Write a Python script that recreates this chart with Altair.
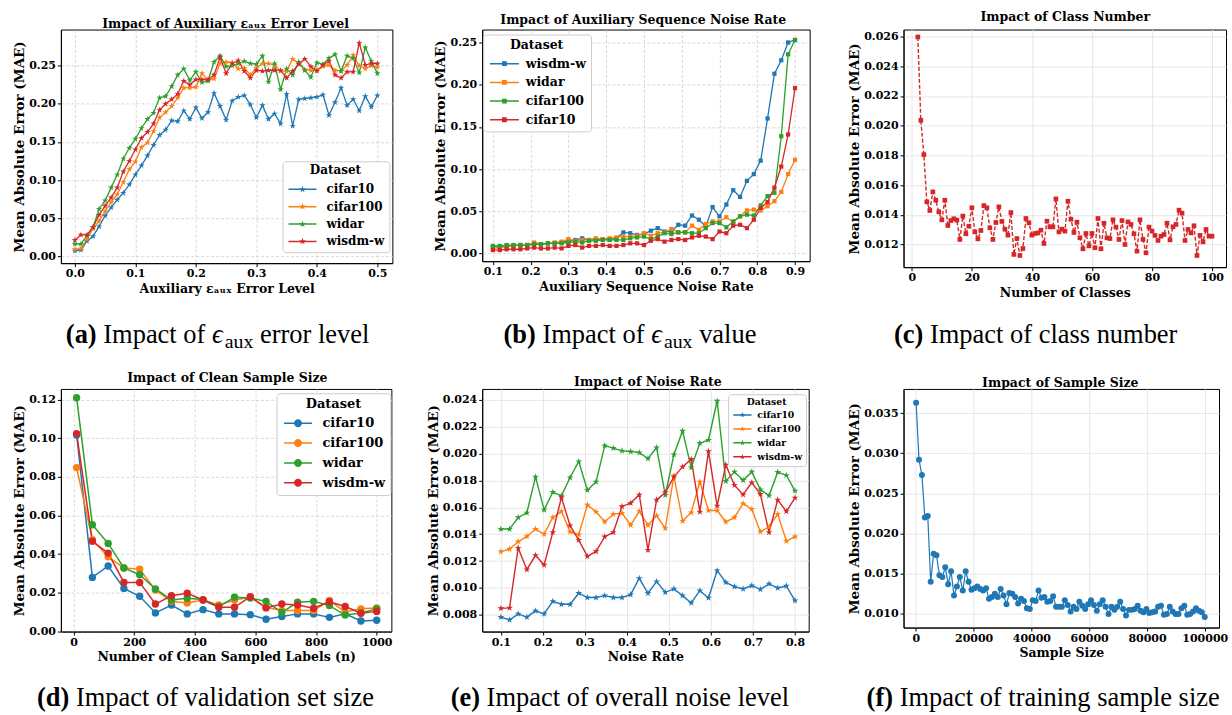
import altair as alt
import numpy as np
import pandas as pd

FONT = "DejaVu Serif"
CAP_FONT = "Liberation Serif"
BLUE, ORANGE, GREEN, RED = "#1f77b4", "#ff7f0e", "#2ca02c", "#d62728"

# ---------------- (a) auxiliary error level ----------------
A_NAMES = ["cifar10", "cifar100", "widar", "wisdm-w"]
A_X = [round(0.01 * i, 2) for i in range(51)]
A_CIFAR10 = [0.007, 0.008, 0.020, 0.026, 0.039, 0.053, 0.064, 0.074, 0.083, 0.094,
             0.107, 0.119, 0.132, 0.146, 0.159, 0.166, 0.178, 0.177, 0.191, 0.180,
             0.195, 0.181, 0.189, 0.214, 0.197, 0.179, 0.204, 0.209, 0.211, 0.199,
             0.182, 0.198, 0.180, 0.187, 0.174, 0.213, 0.171, 0.206, 0.207, 0.208,
             0.209, 0.212, 0.185, 0.202, 0.221, 0.198, 0.206, 0.191, 0.210, 0.196, 0.211]
A_CIFAR100 = [0.009, 0.010, 0.022, 0.036, 0.046, 0.059, 0.071, 0.081, 0.097, 0.114,
              0.124, 0.143, 0.149, 0.164, 0.182, 0.189, 0.197, 0.208, 0.221, 0.221,
              0.222, 0.240, 0.231, 0.233, 0.253, 0.255, 0.254, 0.246, 0.247, 0.238,
              0.247, 0.253, 0.253, 0.251, 0.243, 0.243, 0.259, 0.253, 0.245, 0.244,
              0.245, 0.249, 0.251, 0.244, 0.243, 0.251, 0.264, 0.250, 0.246, 0.250, 0.248]
A_WIDAR = [0.016, 0.016, 0.027, 0.038, 0.062, 0.073, 0.090, 0.107, 0.128, 0.142,
           0.154, 0.168, 0.180, 0.188, 0.208, 0.210, 0.223, 0.238, 0.246, 0.231,
           0.242, 0.228, 0.230, 0.255, 0.263, 0.249, 0.250, 0.253, 0.256, 0.253,
           0.252, 0.263, 0.229, 0.253, 0.219, 0.246, 0.238, 0.255, 0.244, 0.235,
           0.254, 0.252, 0.260, 0.265, 0.243, 0.263, 0.260, 0.241, 0.274, 0.256, 0.240]
A_WISDM = [0.021, 0.028, 0.028, 0.038, 0.054, 0.066, 0.077, 0.090, 0.111, 0.125,
           0.140, 0.155, 0.163, 0.174, 0.192, 0.200, 0.206, 0.213, 0.230, 0.225,
           0.232, 0.232, 0.232, 0.238, 0.261, 0.240, 0.253, 0.257, 0.243, 0.234,
           0.244, 0.243, 0.244, 0.244, 0.244, 0.234, 0.243, 0.252, 0.259, 0.249,
           0.243, 0.251, 0.256, 0.238, 0.234, 0.242, 0.242, 0.280, 0.251, 0.253, 0.253]

# ---------------- (b) auxiliary sequence noise rate ----------------
B_NAMES = ["wisdm-w", "widar", "cifar100", "cifar10"]
B_X = [round(v, 4) for v in np.linspace(0.1, 0.9, 45)]
B_WISDM = [0.008, 0.008, 0.009, 0.0095, 0.010, 0.010, 0.011, 0.011, 0.012, 0.012,
           0.013, 0.015, 0.016, 0.018, 0.016, 0.017, 0.017, 0.017, 0.018, 0.025,
           0.024, 0.022, 0.023, 0.027, 0.030, 0.026, 0.026, 0.034, 0.033, 0.045,
           0.040, 0.032, 0.055, 0.044, 0.058, 0.075, 0.067, 0.086, 0.094, 0.110,
           0.160, 0.213, 0.229, 0.250, 0.253]
B_WIDAR = [0.006, 0.007, 0.008, 0.009, 0.010, 0.010, 0.013, 0.011, 0.012, 0.013,
           0.014, 0.017, 0.015, 0.016, 0.016, 0.018, 0.017, 0.018, 0.019, 0.020,
           0.020, 0.021, 0.024, 0.021, 0.024, 0.025, 0.029, 0.025, 0.025, 0.033,
           0.028, 0.035, 0.038, 0.038, 0.043, 0.037, 0.044, 0.051, 0.052, 0.051,
           0.056, 0.062, 0.073, 0.094, 0.111]
B_CIFAR100 = [0.009, 0.009, 0.010, 0.010, 0.010, 0.010, 0.011, 0.011, 0.012, 0.012,
              0.012, 0.013, 0.014, 0.013, 0.015, 0.015, 0.016, 0.016, 0.016, 0.016,
              0.018, 0.019, 0.020, 0.017, 0.020, 0.024, 0.023, 0.025, 0.025, 0.024,
              0.024, 0.030, 0.036, 0.036, 0.031, 0.038, 0.044, 0.046, 0.045, 0.057,
              0.068, 0.072, 0.139, 0.236, 0.253]
B_CIFAR10 = [0.004, 0.004, 0.005, 0.005, 0.005, 0.006, 0.007, 0.006, 0.006, 0.007,
             0.006, 0.009, 0.010, 0.007, 0.009, 0.009, 0.010, 0.009, 0.009, 0.010,
             0.012, 0.012, 0.010, 0.015, 0.017, 0.014, 0.016, 0.017, 0.016, 0.019,
             0.021, 0.020, 0.017, 0.026, 0.024, 0.033, 0.034, 0.030, 0.040, 0.054,
             0.061, 0.078, 0.103, 0.141, 0.196]

# ---------------- (c) class number ----------------
C_X = list(range(2, 101))
C_MAE = [0.02597, 0.02036, 0.01805, 0.01487, 0.01429, 0.01554, 0.01498, 0.01420, 0.01366, 0.01498,
         0.01328, 0.01361, 0.01373, 0.01364, 0.01234, 0.01391, 0.01272, 0.01323, 0.01447, 0.01285,
         0.01238, 0.01294, 0.01462, 0.01447, 0.01312, 0.01234, 0.01348, 0.01453, 0.01355, 0.01303,
         0.01263, 0.01415, 0.01133, 0.01240, 0.01126, 0.01173, 0.01375, 0.01346, 0.01263, 0.01274,
         0.01278, 0.01296, 0.01207, 0.01357, 0.01319, 0.01319, 0.01507, 0.01285, 0.01303, 0.01290,
         0.01491, 0.01370, 0.01281, 0.01350, 0.01245, 0.01171, 0.01274, 0.01191, 0.01274, 0.01178,
         0.01375, 0.01171, 0.01343, 0.01245, 0.01240, 0.01366, 0.01317, 0.01234, 0.01361, 0.01200,
         0.01352, 0.01335, 0.01272, 0.01155, 0.01366, 0.01234, 0.01144, 0.01317, 0.01290, 0.01261,
         0.01227, 0.01256, 0.01267, 0.01343, 0.01231, 0.01319, 0.01335, 0.01431, 0.01411, 0.01227,
         0.01301, 0.01278, 0.01326, 0.01126, 0.01261, 0.01218, 0.01301, 0.01256, 0.01256]

# ---------------- (d) clean sample size ----------------
D_X = [10, 62, 114, 166, 218, 270, 323, 375, 427, 479, 531, 583, 635, 687, 739, 792, 844, 896, 948, 1000]
D_CIFAR10 = [0.1017, 0.0279, 0.0338, 0.0222, 0.0181, 0.0095, 0.0136, 0.0090, 0.0112, 0.0090,
             0.0090, 0.0086, 0.0062, 0.0076, 0.0090, 0.0090, 0.0072, 0.0090, 0.0053, 0.0057]
D_CIFAR100 = [0.0848, 0.0474, 0.0386, 0.0328, 0.0322, 0.0214, 0.0155, 0.0147, 0.0162, 0.0136,
              0.0162, 0.0176, 0.0124, 0.0107, 0.0107, 0.0107, 0.0159, 0.0100, 0.0116, 0.0121]
D_WIDAR = [0.1210, 0.0552, 0.0455, 0.0328, 0.0293, 0.0219, 0.0162, 0.0171, 0.0164, 0.0128,
           0.0176, 0.0172, 0.0155, 0.0098, 0.0150, 0.0155, 0.0133, 0.0084, 0.0095, 0.0116]
D_WISDM = [0.1024, 0.0466, 0.0405, 0.0253, 0.0253, 0.0141, 0.0184, 0.0197, 0.0162, 0.0124,
           0.0124, 0.0179, 0.0121, 0.0141, 0.0136, 0.0119, 0.0153, 0.0128, 0.0093, 0.0103]

# ---------------- (e) noise rate ----------------
E_X = [round(v, 4) for v in np.linspace(0.1, 0.8, 35)]
E_CIFAR10 = [0.00783, 0.00763, 0.00807, 0.00783, 0.00830, 0.00807, 0.00901, 0.00879, 0.00879, 0.00961,
             0.00929, 0.00929, 0.00943, 0.00929, 0.00929, 0.00951, 0.01072, 0.00961, 0.01047, 0.00968,
             0.00993, 0.00943, 0.00889, 0.00980, 0.00926, 0.01129, 0.01042, 0.01010, 0.00993, 0.01018,
             0.00990, 0.01030, 0.01000, 0.01015, 0.00906]
E_CIFAR100 = [0.01270, 0.01289, 0.01344, 0.01383, 0.01438, 0.01401, 0.01524, 0.01569, 0.01418, 0.01396,
              0.01618, 0.01566, 0.01492, 0.01549, 0.01557, 0.01467, 0.01569, 0.01467, 0.01537, 0.01443,
              0.01833, 0.01497, 0.01561, 0.01789, 0.01576, 0.01576, 0.01492, 0.01524, 0.01628, 0.01586,
              0.01418, 0.01455, 0.01549, 0.01349, 0.01381]
E_WIDAR = [0.01438, 0.01438, 0.01524, 0.01559, 0.01826, 0.01581, 0.01712, 0.01685, 0.01821, 0.01940,
           0.01727, 0.01789, 0.02058, 0.02039, 0.02019, 0.02014, 0.02006, 0.01962, 0.02044, 0.01690,
           0.01992, 0.02167, 0.01895, 0.02076, 0.02100, 0.02390, 0.01794, 0.01863, 0.01801, 0.01863,
           0.01732, 0.01687, 0.01861, 0.01838, 0.01722]
E_WISDM = [0.00849, 0.00852, 0.01297, 0.01136, 0.01243, 0.01171, 0.01413, 0.01673, 0.01463, 0.01356,
           0.01235, 0.01272, 0.01381, 0.01413, 0.01606, 0.01631, 0.01693, 0.01282, 0.01655, 0.01710,
           0.01826, 0.01900, 0.01957, 0.01566, 0.02016, 0.01611, 0.01915, 0.01764, 0.01693, 0.01784,
           0.01697, 0.01413, 0.01655, 0.01569, 0.01670]

# ---------------- (f) sample size ----------------
F_X = [round(v) for v in np.linspace(100, 100000, 100)]
F_MAE = [0.0363, 0.0292, 0.0273, 0.0220, 0.0222, 0.0140, 0.0175, 0.0173, 0.0148, 0.0146,
         0.0158, 0.0137, 0.0153, 0.0123, 0.0134, 0.0146, 0.0129, 0.0153, 0.0140, 0.0130,
         0.0132, 0.0134, 0.0131, 0.0129, 0.0132, 0.0119, 0.0121, 0.0125, 0.0121, 0.0131,
         0.0123, 0.0112, 0.0126, 0.0125, 0.0121, 0.0113, 0.0119, 0.0116, 0.0107, 0.0106,
         0.0117, 0.0116, 0.0129, 0.0120, 0.0121, 0.0115, 0.0116, 0.0122, 0.0109, 0.0109,
         0.0109, 0.0117, 0.0111, 0.0103, 0.0109, 0.0106, 0.0115, 0.0110, 0.0106, 0.0112,
         0.0117, 0.0111, 0.0104, 0.0112, 0.0117, 0.0109, 0.0100, 0.0109, 0.0105, 0.0109,
         0.0115, 0.0106, 0.0098, 0.0105, 0.0105, 0.0106, 0.0110, 0.0104, 0.0102, 0.0106,
         0.0101, 0.0102, 0.0103, 0.0109, 0.0110, 0.0099, 0.0100, 0.0109, 0.0103, 0.0100,
         0.0100, 0.0107, 0.0110, 0.0099, 0.0100, 0.0103, 0.0107, 0.0104, 0.0102, 0.0096]

# ---------------- texts ----------------
Y_TITLE = "Mean Absolute Error (MAE)"
TITLES = ["Impact of Auxiliary \u03b5\u2090\u1d64\u2093 Error Level", "Impact of Auxiliary Sequence Noise Rate",
          "Impact of Class Number", "Impact of Clean Sample Size", "Impact of Noise Rate", "Impact of Sample Size"]
X_TITLES = ["Auxiliary \u03b5\u2090\u1d64\u2093 Error Level", "Auxiliary Sequence Noise Rate", "Number of Classes",
            "Number of Clean Sampled Labels (n)", "Noise Rate", "Sample Size"]
CAPTIONS = [
    [("(a)", "bold"), (" ", "sp"), ("Impact of", "n"), (" ", "sp"), ("\u03f5", "it"), ("aux", "sub"), (" ", "sp"), ("error level", "n")],
    [("(b)", "bold"), (" ", "sp"), ("Impact of", "n"), (" ", "sp"), ("\u03f5", "it"), ("aux", "sub"), (" ", "sp"), ("value", "n")],
    [("(c)", "bold"), (" ", "sp"), ("Impact of class number", "n")],
    [("(d)", "bold"), (" ", "sp"), ("Impact of validation set size", "n")],
    [("(e)", "bold"), (" ", "sp"), ("Impact of overall noise level", "n")],
    [("(f)", "bold"), (" ", "sp"), ("Impact of training sample size", "n")],
]

ONE = pd.DataFrame({"k": [0]})

# Times / Liberation Serif advance widths (per 1000 em)
TW = {' ': 250, 'a': 444, 'b': 500, 'c': 444, 'd': 500, 'e': 444, 'f': 333, 'g': 500, 'h': 500,
      'i': 278, 'l': 278, 'm': 778, 'n': 500, 'o': 500, 'p': 500, 'r': 333, 's': 389, 't': 278,
      'u': 500, 'v': 500, 'x': 500, 'z': 444, 'I': 333}
TWB = {'(': 333, ')': 333, 'a': 500, 'b': 556, 'c': 444, 'd': 556, 'e': 444, 'f': 333}

STAR_PTS = [(0, -1), (0.2245, -0.309), (0.9511, -0.309), (0.3633, 0.118), (0.5878, 0.809),
            (0, 0.382), (-0.5878, 0.809), (-0.3633, 0.118), (-0.9511, -0.309), (-0.2245, -0.309)]


def star_path(cx=0.0, r=1.0):
    return "M" + "L".join(f"{cx + r * x:.4f},{r * y:.4f}" for x, y in STAR_PTS) + "Z"


def bar(x0, x1, t):
    return f"M{x0},{-t}L{x1},{-t}L{x1},{t}L{x0},{t}Z"


def sym_star(x0, x1, cx, r, t):
    return bar(x0, x1, t) + star_path(cx, r)


def sym_square(x0, x1, cx, r, t):
    return bar(x0, x1, t) + f"M{cx - r},{-r}L{cx + r},{-r}L{cx + r},{r}L{cx - r},{r}Z"


def sym_circle(x0, x1, cx, r, t):
    return bar(x0, x1, t) + f"M{cx - r},0A{r},{r},0,1,1,{cx + r},0A{r},{r},0,1,1,{cx - r},0Z"


def long_df(x, series):
    rows = []
    for name, ys in series:
        for xv, yv in zip(x, ys):
            rows.append({"x": xv, "y": yv, "Dataset": name})
    return pd.DataFrame(rows)


def make_axis(values, fmt, title, dashed, is_x):
    kw = dict(values=values, format=fmt, title=title, grid=True,
              gridColor="#cfcfcf" if dashed else "#e6e6e6", gridWidth=0.8 if dashed else 1,
              domain=True, domainColor="black", domainWidth=1,
              ticks=True, tickColor="black", tickSize=3.5, tickWidth=1,
              labelFont=FONT, labelFontSize=11, labelFontWeight="bold", labelColor="black",
              labelPadding=1 if is_x else 2, labelFlush=False, labelOverlap=False,
              titleFont=FONT, titleFontSize=12.5 if is_x else 13.5, titleFontWeight="bold",
              titleColor="black", titlePadding=3.5 if is_x else 2)
    if dashed:
        kw["gridDash"] = [3, 2]
    return alt.Axis(**kw)


def make_legend(x, y, sym, size, label_offset, fs, pad, title_pad, row_pad):
    return alt.Legend(title="Dataset", orient="none", legendX=x, legendY=y,
                      symbolType=sym, symbolSize=size, symbolStrokeWidth=0, symbolOpacity=1,
                      labelOffset=label_offset, labelFont=FONT, labelFontSize=fs,
                      labelFontWeight="bold", labelColor="black",
                      titleFont=FONT, titleFontSize=fs, titleFontWeight="bold", titleColor="black",
                      titleAnchor="middle", titleAlign="center", titlePadding=title_pad,
                      rowPadding=row_pad, padding=pad, strokeColor="#cccccc",
                      fillColor="white", cornerRadius=3)


def text_layer(text, x, y, font, size, weight="normal", style="normal", align="left"):
    return alt.Chart(ONE).mark_text(font=font, fontSize=size, fontWeight=weight, fontStyle=style,
                                    align=align, baseline="alphabetic", color="black").encode(
        x=alt.value(x), y=alt.value(y), text=alt.value(text))


def caption_layers(pieces, cx, by, size=26.5):
    widths = []
    for text, kind in pieces:
        if kind == "bold":
            w = sum(TWB.get(ch, 500) for ch in text) * size / 1000
        elif kind == "sub":
            w = sum(TW.get(ch, 500) for ch in text) * size * 0.75 / 1000
        elif kind == "it":
            w = 0.48 * size
        else:
            w = sum(TW.get(ch, 500) for ch in text) * size / 1000
        widths.append(w)
    x = cx - sum(widths) / 2
    layers = []
    for (text, kind), w in zip(pieces, widths):
        if kind != "sp":
            fs = size * 0.75 if kind == "sub" else size
            y = by + (0.2 * size if kind == "sub" else 0)
            layers.append(text_layer(text, x, y, CAP_FONT, fs,
                                     weight="bold" if kind == "bold" else "normal",
                                     style="italic" if kind == "it" else "normal"))
        x += w
    return layers


def panel(df, names, colors, w, h, xdom, ydom, xaxis, yaxis, title, tx, ty,
          shape, msize, lw, dash=None, legend=None, extra=()):
    X = alt.X("x:Q", scale=alt.Scale(domain=xdom, nice=False, zero=False), axis=xaxis)
    Y = alt.Y("y:Q", scale=alt.Scale(domain=ydom, nice=False, zero=False), axis=yaxis)
    lkw = dict(strokeWidth=lw)
    if dash:
        lkw["strokeDash"] = dash
    cscale = alt.Scale(domain=names, range=colors)
    if legend is None:
        line_color = alt.Color("Dataset:N", scale=cscale, legend=None)
        pt_color = alt.Color("Dataset:N", scale=cscale, legend=None)
    else:
        line_color = alt.Color("Dataset:N", scale=cscale)
        pt_color = alt.Color("Dataset:N", scale=cscale, legend=legend)
    lines = alt.Chart(df).mark_line(**lkw).encode(X, Y, color=line_color)
    pts = alt.Chart(df).mark_point(filled=True, shape=shape, size=msize, opacity=1,
                                   strokeWidth=0).encode(X, Y, color=pt_color)
    ttl = text_layer(title, tx, ty, FONT, 12.5, weight="bold", align="center")
    return alt.layer(lines, pts, ttl, *extra).properties(width=w, height=h)


COLS4 = [BLUE, ORANGE, GREEN, RED]
STAR = star_path()

# pins that fix the overall canvas extent
pin_tl = alt.Chart(ONE).mark_rule(color="white", strokeWidth=1).encode(
    x=alt.value(-59.5), x2=alt.value(-58.5), y=alt.value(-27.5))
pin_br = alt.Chart(ONE).mark_rule(color="white", strokeWidth=1).encode(
    x=alt.value(326.5), x2=alt.value(327.5), y=alt.value(326.5))

pa = panel(long_df(A_X, zip(A_NAMES, [A_CIFAR10, A_CIFAR100, A_WIDAR, A_WISDM])), A_NAMES, COLS4,
           332, 234, [-0.0231, 0.52475], [-0.00918, 0.29759],
           make_axis([0.0, 0.1, 0.2, 0.3, 0.4, 0.5], ".1f", X_TITLES[0], True, True),
           make_axis([0.0, 0.05, 0.10, 0.15, 0.20, 0.25], ".2f", Y_TITLE, True, False),
           TITLES[0], 165, -2, STAR, 46, 1.3,
           legend=make_legend(222, 132, sym_star(-1, 6, 2.5, 0.9, 0.19), 64, 28, 12, 4, 6, 5.4),
           extra=[pin_tl] + caption_layers(CAPTIONS[0], 157, 314))

pb = panel(long_df(B_X, zip(B_NAMES, [B_WISDM, B_WIDAR, B_CIFAR100, B_CIFAR10])), B_NAMES, COLS4,
           328, 232, [0.07171, 0.93886], [-0.00911, 0.26538],
           make_axis([0.1, 0.2, 0.3, 0.4, 0.5, 0.6, 0.7, 0.8, 0.9], ".1f", X_TITLES[1], True, True),
           make_axis([0.0, 0.05, 0.10, 0.15, 0.20, 0.25], ".2f", Y_TITLE, True, False),
           TITLES[1], 161.3, -5.3, "square", 18, 1.3,
           legend=make_legend(1, 5, sym_square(-1, 6.25, 2.625, 0.6, 0.19), 64, 25.5, 12.5, 4.5, 6, 5.7),
           extra=caption_layers(CAPTIONS[1], 148, 314))

pc = panel(long_df(C_X, [("cls", C_MAE)]), ["cls"], [RED],
           323, 238, [-2.76, 104.656], [0.010474, 0.02647],
           make_axis([0, 20, 40, 60, 80, 100], "d", X_TITLES[2], False, True),
           make_axis([0.012, 0.014, 0.016, 0.018, 0.020, 0.022, 0.024, 0.026], ".3f", Y_TITLE, False, False),
           TITLES[2], 162, -8.7, "square", 22, 1.4, dash=[4, 2],
           extra=caption_layers(CAPTIONS[2], 132.5, 314))

pd_ = panel(long_df(D_X, zip(A_NAMES, [D_CIFAR10, D_CIFAR100, D_WIDAR, D_WISDM])), A_NAMES, COLS4,
            331, 243, [-41.83, 1048.4], [-0.000155, 0.125535],
            make_axis([0, 200, 400, 600, 800, 1000], "d", X_TITLES[3], True, True),
            make_axis([0.0, 0.02, 0.04, 0.06, 0.08, 0.10, 0.12], ".2f", Y_TITLE, True, False),
            TITLES[3], 166.7, -7.3, "circle", 55, 1.5,
            legend=make_legend(216, 4.3, sym_circle(-1, 6, 2.5, 1.0, 0.19), 64, 28, 13, 5, 5.5, 5.9),
            extra=caption_layers(CAPTIONS[3], 145, 318))

pe = panel(long_df(E_X, zip(A_NAMES, [E_CIFAR10, E_CIFAR100, E_WIDAR, E_WISDM])), A_NAMES, COLS4,
           327, 243, [0.05557, 0.83255], [0.006761, 0.024794],
           make_axis([0.1, 0.2, 0.3, 0.4, 0.5, 0.6, 0.7, 0.8], ".1f", X_TITLES[4], False, True),
           make_axis([0.008, 0.010, 0.012, 0.014, 0.016, 0.018, 0.020, 0.022, 0.024], ".3f", Y_TITLE, False, False),
           TITLES[4], 166, -3, STAR, 52, 1.4,
           legend=make_legend(246.3, 5.3, sym_star(-1, 5.1, 2.05, 1.0, 0.25), 36, 16.5, 9.3, 3.5, 3.25, 4),
           extra=caption_layers(CAPTIONS[4], 138, 318))

pf = panel(long_df(F_X, [("size", F_MAE)]), ["size"], [BLUE],
           316, 239, [-4250, 104941], [0.008296, 0.038022],
           make_axis([0, 20000, 40000, 60000, 80000, 100000], "d", X_TITLES[5], False, True),
           make_axis([0.010, 0.015, 0.020, 0.025, 0.030, 0.035], ".3f", Y_TITLE, False, False),
           TITLES[5], 157, -2.3, "circle", 36, 1.2,
           extra=[pin_br] + caption_layers(CAPTIONS[5], 140, 318))

chart = alt.concat(pa, pb, pc, pd_, pe, pf, columns=3, spacing={"row": 117, "column": 90},
                   bounds="flush", align="all").resolve_scale(
    x="independent", y="independent", color="independent"
).configure_view(stroke="black", strokeWidth=1).properties(padding=0, background="white")

chart.save("out.html", embed_options={"renderer": "svg", "actions": False})
